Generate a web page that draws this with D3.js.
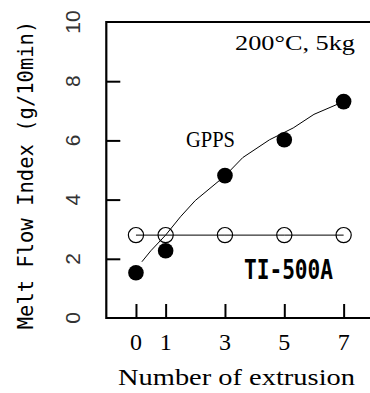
<!DOCTYPE html>
<html>
<head>
<meta charset="utf-8">
<script src="https://cdn.jsdelivr.net/npm/d3@7"></script>
<style>
html,body{margin:0;padding:0;background:#fff;}
svg{display:block;}
</style>
</head>
<body>
<svg id="chart" width="370" height="393"></svg>
<script>
// ---- data ----
const extrusions = [0, 1, 3, 5, 7];
const gppsMFI = [1.53, 2.27, 4.81, 6.02, 7.31];
const ti500aMFI = [2.8, 2.8, 2.8, 2.8, 2.8];
const fitX = [0.2, 0.5, 1, 1.5, 2, 3, 3.6, 4.5, 5.3, 6, 7];
const fitY = [1.9, 2.27, 2.8, 3.42, 3.97, 4.8, 5.42, 6.02, 6.42, 6.88, 7.31];
const yTicks = [0, 2, 4, 6, 8, 10];
const xTicks = [0, 1, 3, 5, 7];

const svg = d3.select("#chart");
const x = d3.scaleLinear().domain([-1, 8]).range([106.3, 373.3]);
const y = d3.scaleLinear().domain([0, 10]).range([318, 22]);

// ticks (inward) via axes
const yAxis = d3.axisLeft(y).tickValues(yTicks.filter(v => v > 0 && v < 10)).tickSize(-14).tickFormat("");
const gy = svg.append("g").attr("transform", `translate(${x(-1)},0)`).call(yAxis);
gy.select(".domain").remove();
gy.selectAll("line").attr("stroke", "#000").attr("stroke-width", 2);

const xAxis = d3.axisBottom(x).tickValues(xTicks).tickSize(-14).tickFormat("");
const gx = svg.append("g").attr("transform", `translate(0,${y(0)})`).call(xAxis);
gx.select(".domain").remove();
gx.selectAll("line").attr("stroke", "#000").attr("stroke-width", 2);

// frame (left, top, bottom; right side beyond view)
svg.append("path")
  .attr("d", `M${x(8)},${y(10)}H${x(-1)}V${y(0)}H${x(8)}`)
  .attr("fill", "none").attr("stroke", "#000").attr("stroke-width", 2.2);

// y tick labels (rotated)
svg.append("g").selectAll("text").data(yTicks).join("text")
  .attr("transform", d => `translate(80,${y(d)}) rotate(-90)`)
  .attr("text-anchor", "middle")
  .attr("font-family", "Liberation Sans, Arial, sans-serif")
  .attr("font-size", 21)
  .attr("fill", "#333")
  .text(d => d);

// x tick labels
svg.append("g").selectAll("text").data(xTicks).join("text")
  .attr("x", d => x(d)).attr("y", 350)
  .attr("text-anchor", "middle")
  .attr("font-family", "Liberation Serif, serif")
  .attr("font-size", 24)
  .attr("fill", "#000")
  .text(d => d);

// axis titles
svg.append("text")
  .attr("x", 118).attr("y", 385)
  .attr("textLength", 237).attr("lengthAdjust", "spacingAndGlyphs")
  .attr("font-family", "Liberation Serif, serif")
  .attr("font-size", 23)
  .text("Number of extrusion");

svg.append("text")
  .attr("transform", "translate(33,175) rotate(-90)")
  .attr("text-anchor", "middle")
  .attr("font-family", "DejaVu Sans Mono, monospace")
  .attr("font-size", 20.5)
  .text("Melt Flow Index (g/10min)");

// TI-500A line + open circles
const line = d3.line().x(d => x(d[0])).y(d => y(d[1]));
svg.append("path")
  .attr("d", line(extrusions.map((v, i) => [v, ti500aMFI[i]])))
  .attr("fill", "none").attr("stroke", "#000").attr("stroke-width", 1);
svg.append("g").selectAll("circle").data(extrusions).join("circle")
  .attr("cx", (d) => x(d)).attr("cy", (d, i) => y(ti500aMFI[i]))
  .attr("r", 7.6).attr("fill", "none").attr("stroke", "#000").attr("stroke-width", 1.2);

// GPPS fit curve
svg.append("path")
  .attr("d", line(fitX.map((v, i) => [v, fitY[i]])))
  .attr("fill", "none").attr("stroke", "#000").attr("stroke-width", 1);

// GPPS filled circles
svg.append("g").selectAll("circle").data(extrusions).join("circle")
  .attr("cx", d => x(d)).attr("cy", (d, i) => y(gppsMFI[i]))
  .attr("r", 7.8).attr("fill", "#000");

// annotations
svg.append("text")
  .attr("x", 235).attr("y", 50)
  .attr("textLength", 120).attr("lengthAdjust", "spacingAndGlyphs")
  .attr("font-family", "Liberation Serif, serif")
  .attr("font-size", 22)
  .text("200°C,  5kg");

svg.append("text")
  .attr("x", 186).attr("y", 147)
  .attr("textLength", 49).attr("lengthAdjust", "spacingAndGlyphs")
  .attr("font-family", "Liberation Serif, serif")
  .attr("font-size", 24)
  .text("GPPS");

svg.append("text")
  .attr("x", 244).attr("y", 279)
  .attr("textLength", 89).attr("lengthAdjust", "spacingAndGlyphs")
  .attr("font-family", "DejaVu Sans Mono, monospace")
  .attr("font-weight", "bold")
  .attr("font-size", 26)
  .text("TI-500A");
</script>
</body>
</html>
